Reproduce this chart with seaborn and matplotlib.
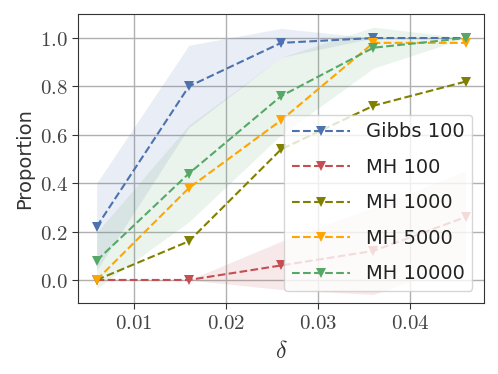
import pandas as pd
import matplotlib
matplotlib.use("Agg")
import matplotlib.pyplot as plt
from matplotlib.ticker import FuncFormatter
import seaborn as sns

# Data
delta = [0.006, 0.016, 0.026, 0.036, 0.046]

gibbs_100 = [0.22, 0.80, 0.98, 1.00, 1.00]
mh_100 = [0.00, 0.00, 0.06, 0.12, 0.26]
mh_1000 = [0.00, 0.16, 0.54, 0.72, 0.82]
mh_5000 = [0.00, 0.38, 0.66, 0.98, 0.98]
mh_10000 = [0.08, 0.44, 0.76, 0.96, 1.00]

# spread bands (lower, upper)
gibbs_100_lo = [0.04, 0.63, 0.92, 1.00, 1.00]
gibbs_100_hi = [0.40, 0.97, 1.04, 1.00, 1.00]
mh_100_lo = [0.00, 0.00, -0.04, -0.06, 0.07]
mh_100_hi = [0.00, 0.00, 0.16, 0.30, 0.45]
mh_10000_lo = [-0.035, 0.24, 0.60, 0.875, 1.00]
mh_10000_hi = [0.195, 0.64, 0.92, 1.045, 1.00]

series = [
    ("Gibbs 100", gibbs_100, "#4C72B0", (gibbs_100_lo, gibbs_100_hi)),
    ("MH 100", mh_100, "#C44E52", (mh_100_lo, mh_100_hi)),
    ("MH 1000", mh_1000, "olive", None),
    ("MH 5000", mh_5000, "orange", None),
    ("MH 10000", mh_10000, "#55A868", (mh_10000_lo, mh_10000_hi)),
]

sns.set_style("ticks", {"axes.grid": True})
plt.rcParams["font.family"] = ["DejaVu Sans"]
plt.rcParams["mathtext.fontset"] = "cm"
plt.rcParams["grid.color"] = "#b0b0b0"
plt.rcParams["axes.edgecolor"] = "#333333"

fig = plt.figure(figsize=(4.98, 3.74), dpi=100)
ax = fig.add_axes([0.157, 0.19, 0.815, 0.773])

for label, vals, color, band in series:
    df = pd.DataFrame({"delta": delta, "value": vals})
    sns.lineplot(data=df, x="delta", y="value", ax=ax, color=color, label=label,
                 linestyle="--", marker="v", markersize=7.5, markeredgewidth=0,
                 linewidth=1.5)
    if band is not None:
        ax.fill_between(delta, band[0], band[1], color=color, alpha=0.12, linewidth=0)

ax.set_xlim(0.004, 0.048)
ax.set_ylim(-0.095, 1.1)
ax.set_xticks([0.01, 0.02, 0.03, 0.04])
ax.set_yticks([0.0, 0.2, 0.4, 0.6, 0.8, 1.0])
ax.xaxis.set_major_formatter(FuncFormatter(lambda v, p: f"${v:.2f}$"))
ax.yaxis.set_major_formatter(FuncFormatter(lambda v, p: f"${v:.1f}$"))
ax.tick_params(labelsize=15, colors="#333333", labelcolor="#444444", length=4)
ax.grid(True, color="#b0b0b0", linewidth=1)

ax.set_xlabel(r"$\delta$", fontsize=17, color="#333333")
ax.set_ylabel("Proportion", fontsize=14, color="#333333")

leg = ax.legend(loc="lower right", fontsize=14, handlelength=3.0,
                labelspacing=0.85, framealpha=0.8, borderaxespad=0.6)
for t in leg.get_texts():
    t.set_color("#222222")

fig.savefig("out.png", dpi=100)
